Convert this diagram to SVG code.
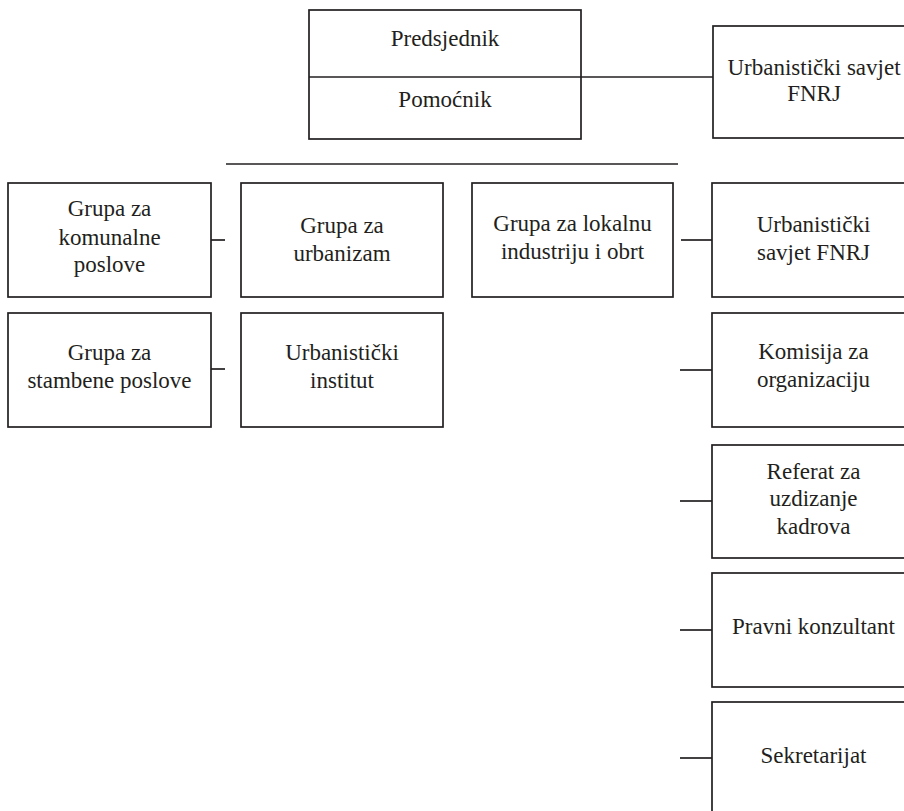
<svg xmlns="http://www.w3.org/2000/svg" width="904" height="811" viewBox="0 0 904 811">
<style>
  .box { fill: #ffffff; stroke: #231f20; stroke-width: 1.7; }
  .conn { stroke: #231f20; stroke-width: 1.7; fill: none; }
  text { font-family: "Liberation Serif", "Times New Roman", serif; font-size: 23px; fill: #231f20; text-anchor: middle; }
</style>
<rect width="904" height="811" fill="#ffffff"/>
<g id="connectors">
  <line class="conn" x1="581" y1="77" x2="713" y2="77"/>
  <line class="conn" x1="226" y1="164" x2="678" y2="164"/>
  <line class="conn" x1="211" y1="240" x2="225" y2="240"/>
  <line class="conn" x1="211" y1="369" x2="225" y2="369"/>
  <line class="conn" x1="681" y1="240" x2="712" y2="240"/>
  <line class="conn" x1="680" y1="370" x2="712" y2="370"/>
  <line class="conn" x1="680" y1="501" x2="712" y2="501"/>
  <line class="conn" x1="680" y1="630" x2="712" y2="630"/>
  <line class="conn" x1="680" y1="758" x2="712" y2="758"/>
</g>
<g id="predsjednik">
  <rect class="box" x="309" y="10" width="272" height="129"/>
  <line class="conn" x1="309" y1="77" x2="581" y2="77"/>
  <text x="445" y="46">Predsjednik</text>
  <text x="445" y="107">Pomoćnik</text>
</g>
<g id="urb-savjet-top">
  <rect class="box" x="713" y="26" width="203" height="112"/>
  <text x="814" y="75">Urbanistički savjet</text>
  <text x="814" y="101">FNRJ</text>
</g>
<g id="komunalne">
  <rect class="box" x="8" y="183" width="203" height="114"/>
  <text x="109.5" y="216">Grupa za</text>
  <text x="109.5" y="245">komunalne</text>
  <text x="109.5" y="272">poslove</text>
</g>
<g id="urbanizam">
  <rect class="box" x="241" y="183" width="202" height="114"/>
  <text x="342" y="233">Grupa za</text>
  <text x="342" y="261">urbanizam</text>
</g>
<g id="lokalna-industrija">
  <rect class="box" x="472" y="183" width="201" height="114"/>
  <text x="572.5" y="231">Grupa za lokalnu</text>
  <text x="572.5" y="259">industriju i obrt</text>
</g>
<g id="urb-savjet">
  <rect class="box" x="712" y="183" width="203" height="114"/>
  <text x="813.5" y="232">Urbanistički</text>
  <text x="813.5" y="260">savjet FNRJ</text>
</g>
<g id="stambene">
  <rect class="box" x="8" y="313" width="203" height="114"/>
  <text x="109.5" y="360">Grupa za</text>
  <text x="109.5" y="388">stambene poslove</text>
</g>
<g id="institut">
  <rect class="box" x="241" y="313" width="202" height="114"/>
  <text x="342" y="360">Urbanistički</text>
  <text x="342" y="388">institut</text>
</g>
<g id="komisija">
  <rect class="box" x="712" y="313" width="203" height="114"/>
  <text x="813.5" y="359">Komisija za</text>
  <text x="813.5" y="387">organizaciju</text>
</g>
<g id="referat">
  <rect class="box" x="712" y="445" width="203" height="113"/>
  <text x="813.5" y="479">Referat za</text>
  <text x="813.5" y="506">uzdizanje</text>
  <text x="813.5" y="534">kadrova</text>
</g>
<g id="pravni">
  <rect class="box" x="712" y="573" width="203" height="114"/>
  <text x="813.5" y="634">Pravni konzultant</text>
</g>
<g id="sekretarijat">
  <rect class="box" x="712" y="702" width="203" height="114"/>
  <text x="813.5" y="763">Sekretarijat</text>
</g>
</svg>
